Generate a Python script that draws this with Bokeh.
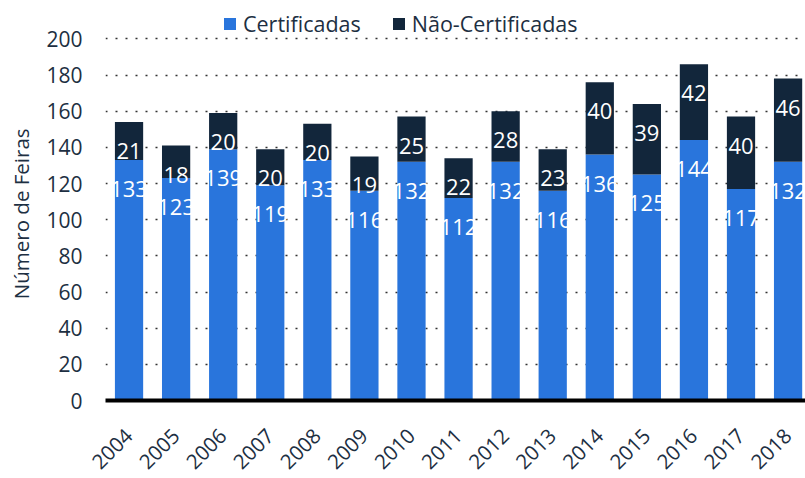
import numpy as np
from bokeh.plotting import figure
from bokeh.models import ColumnDataSource, FixedTicker, Legend, LegendItem
from bokeh.core.properties import value
from bokeh.embed import file_html
from bokeh.resources import INLINE

years = ["2004", "2005", "2006", "2007", "2008", "2009", "2010", "2011",
         "2012", "2013", "2014", "2015", "2016", "2017", "2018"]
certificadas = [133, 123, 139, 119, 133, 116, 132, 112, 132, 116, 136, 125, 144, 117, 132]
nao_certificadas = [21, 18, 20, 20, 20, 19, 25, 22, 28, 23, 40, 39, 42, 40, 46]
y_ticks = [0, 20, 40, 60, 80, 100, 120, 140, 160, 180, 200]

BLUE = "#2975dc"
NAVY = "#12263b"
TEXT = "#1d2f42"
FONT = "Open Sans"

xs = list(range(len(years)))
tops = [c + n for c, n in zip(certificadas, nao_certificadas)]
src = ColumnDataSource(dict(
    x=xs, cert=certificadas, nao=nao_certificadas, top=tops,
    cert_lbl=[str(v) for v in certificadas], nao_lbl=[str(v) for v in nao_certificadas],
))

p = figure(width=805, height=478, output_backend="svg", toolbar_location=None,
           x_range=(-0.5, 14.37), y_range=(0, 221.2),
           min_border_left=105, min_border_right=0, min_border_top=0, min_border_bottom=71)
p.outline_line_color = None
p.background_fill_color = "white"
p.border_fill_color = "white"

r1 = p.vbar(x="x", bottom=0, top="cert", width=0.6, fill_color=BLUE, line_color=None, source=src)
r2 = p.vbar(x="x", bottom="cert", top="top", width=0.6, fill_color=NAVY, line_color=None, source=src)

p.text(x="x", y="cert", text="cert_lbl", y_offset=29, text_color="white",
       text_font=value(FONT), text_font_size="22px", text_align="center",
       text_baseline="middle", source=src)
p.text(x="x", y="top", text="nao_lbl", y_offset=29, text_color="white",
       text_font=value(FONT), text_font_size="22px", text_align="center",
       text_baseline="middle", source=src)

# grid
p.xgrid.grid_line_color = None
p.ygrid.ticker = FixedTicker(ticks=y_ticks)
p.ygrid.grid_line_color = "#333333"
p.ygrid.grid_line_dash = "2 8"
p.ygrid.grid_line_width = 1.5

# y axis
p.yaxis.ticker = FixedTicker(ticks=y_ticks)
p.yaxis.axis_line_color = None
p.yaxis.major_tick_line_color = None
p.yaxis.minor_tick_line_color = None
p.yaxis.major_label_text_font = FONT
p.yaxis.major_label_text_font_size = "21px"
p.yaxis.major_label_text_color = TEXT
p.yaxis.major_label_standoff = 17
p.yaxis.axis_label = "Número de Feiras" + "\u00a0" * 5
p.yaxis.axis_label_text_font = FONT
p.yaxis.axis_label_text_font_size = "20.5px"
p.yaxis.axis_label_text_font_style = "normal"
p.yaxis.axis_label_text_color = TEXT
p.yaxis.axis_label_standoff = 8

# x axis
p.xaxis.ticker = FixedTicker(ticks=xs)
p.xaxis.major_label_overrides = {i: y for i, y in zip(xs, years)}
p.xaxis.axis_line_color = "black"
p.xaxis.axis_line_width = 4
p.xaxis.major_tick_line_color = None
p.xaxis.minor_tick_line_color = None
p.xaxis.major_label_orientation = np.pi / 4
p.xaxis.major_label_text_font = FONT
p.xaxis.major_label_text_font_size = "20.5px"
p.xaxis.major_label_text_color = TEXT
p.xaxis.major_label_standoff = 26

legend = Legend(items=[LegendItem(label="Certificadas", renderers=[r1]),
                       LegendItem(label="Não-Certificadas", renderers=[r2])],
                orientation="horizontal", location=(117, 362),
                glyph_width=15, glyph_height=15, label_standoff=6, spacing=30,
                padding=0, margin=0, border_line_color=None,
                background_fill_alpha=0,
                label_text_font=FONT, label_text_font_size="21.5px",
                label_text_color=TEXT)
p.add_layout(legend)

open("out.html", "w").write(file_html(p, INLINE))
